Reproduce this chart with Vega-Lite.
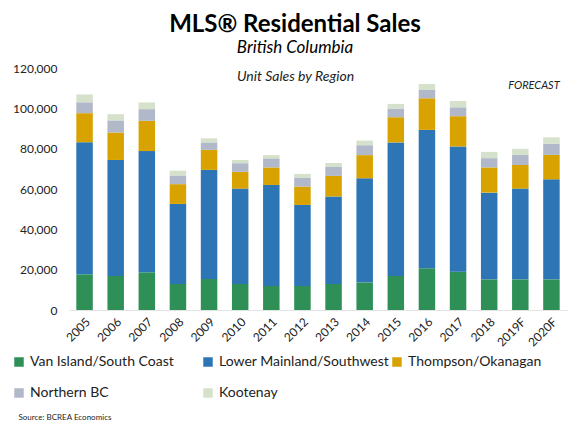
{
  "$schema": "https://vega.github.io/schema/vega-lite/v6.json",
  "width": 498,
  "height": 242,
  "autosize": {"type": "none"},
  "padding": {"left": 69, "top": 68, "right": 9, "bottom": 118},
  "background": "white",
  "config": {"view": {"stroke": null}, "font": "Lato"},
  "title": {
    "text": "MLS® Residential Sales",
    "subtitle": "British Columbia",
    "font": "Lato",
    "fontSize": 24,
    "fontWeight": "bold",
    "color": "black",
    "subtitleFont": "Lato",
    "subtitleFontSize": 17,
    "subtitleFontStyle": "italic",
    "subtitleColor": "black",
    "subtitlePadding": 3,
    "anchor": "middle",
    "dx": -23,
    "offset": 6
  },
  "layer": [
    {
      "data": {
        "values": [
          {"year": "2005", "Van Island/South Coast": 17700, "Lower Mainland/Southwest": 65500, "Thompson/Okanagan": 14400, "Northern BC": 5400, "Kootenay": 3900},
          {"year": "2006", "Van Island/South Coast": 16900, "Lower Mainland/Southwest": 57500, "Thompson/Okanagan": 13600, "Northern BC": 6000, "Kootenay": 3100},
          {"year": "2007", "Van Island/South Coast": 18700, "Lower Mainland/Southwest": 60100, "Thompson/Okanagan": 15000, "Northern BC": 5800, "Kootenay": 3300},
          {"year": "2008", "Van Island/South Coast": 12900, "Lower Mainland/Southwest": 39700, "Thompson/Okanagan": 9800, "Northern BC": 4300, "Kootenay": 2400},
          {"year": "2009", "Van Island/South Coast": 15400, "Lower Mainland/Southwest": 54100, "Thompson/Okanagan": 9900, "Northern BC": 3700, "Kootenay": 2000},
          {"year": "2010", "Van Island/South Coast": 12900, "Lower Mainland/Southwest": 47300, "Thompson/Okanagan": 8300, "Northern BC": 4300, "Kootenay": 1600},
          {"year": "2011", "Van Island/South Coast": 11900, "Lower Mainland/Southwest": 50100, "Thompson/Okanagan": 8700, "Northern BC": 4500, "Kootenay": 1600},
          {"year": "2012", "Van Island/South Coast": 11900, "Lower Mainland/Southwest": 40200, "Thompson/Okanagan": 9100, "Northern BC": 4500, "Kootenay": 1800},
          {"year": "2013", "Van Island/South Coast": 12900, "Lower Mainland/Southwest": 43400, "Thompson/Okanagan": 10200, "Northern BC": 4400, "Kootenay": 2000},
          {"year": "2014", "Van Island/South Coast": 13700, "Lower Mainland/Southwest": 51600, "Thompson/Okanagan": 11500, "Northern BC": 4900, "Kootenay": 2300},
          {"year": "2015", "Van Island/South Coast": 16900, "Lower Mainland/Southwest": 66200, "Thompson/Okanagan": 12500, "Northern BC": 4300, "Kootenay": 2300},
          {"year": "2016", "Van Island/South Coast": 20700, "Lower Mainland/Southwest": 68600, "Thompson/Okanagan": 15700, "Northern BC": 4100, "Kootenay": 3000},
          {"year": "2017", "Van Island/South Coast": 19000, "Lower Mainland/Southwest": 62100, "Thompson/Okanagan": 15000, "Northern BC": 4400, "Kootenay": 3100},
          {"year": "2018", "Van Island/South Coast": 15200, "Lower Mainland/Southwest": 43000, "Thompson/Okanagan": 12500, "Northern BC": 4600, "Kootenay": 3100},
          {"year": "2019F", "Van Island/South Coast": 15200, "Lower Mainland/Southwest": 45000, "Thompson/Okanagan": 11700, "Northern BC": 5000, "Kootenay": 3000},
          {"year": "2020F", "Van Island/South Coast": 15200, "Lower Mainland/Southwest": 49600, "Thompson/Okanagan": 12100, "Northern BC": 5500, "Kootenay": 3200}
        ]
      },
      "transform": [
        {"fold": ["Van Island/South Coast", "Lower Mainland/Southwest", "Thompson/Okanagan", "Northern BC", "Kootenay"], "as": ["region", "sales"]},
        {"window": [{"op": "row_number", "as": "stackIndex"}], "groupby": ["year"]}
      ],
      "mark": {"type": "bar"},
      "encoding": {
        "x": {
          "field": "year",
          "type": "nominal",
          "sort": null,
          "scale": {"paddingInner": 0.47, "paddingOuter": 0.235},
          "axis": {
            "labelAngle": -45,
            "labelFontSize": 12,
            "labelColor": "#222",
            "labelFont": "Lato",
            "ticks": false,
            "domainColor": "#e3e3e3",
            "labelPadding": 6,
            "title": "Source: BCREA Economics",
            "titleFontSize": 8,
            "titleFontWeight": "normal",
            "titleColor": "#222",
            "titleAngle": 0,
            "titleAlign": "left",
            "titleBaseline": "middle",
            "titleX": -51,
            "titleY": 107
          }
        },
        "y": {
          "field": "sales",
          "type": "quantitative",
          "stack": "zero",
          "scale": {"domain": [0, 120000], "nice": false},
          "axis": {
            "values": [0, 20000, 40000, 60000, 80000, 100000, 120000],
            "format": ",.0f",
            "grid": false,
            "domain": false,
            "ticks": false,
            "labelFontSize": 12,
            "labelColor": "#222",
            "labelPadding": 12,
            "title": "Unit Sales by Region",
            "titleFontSize": 14,
            "titleFontStyle": "italic",
            "titleFontWeight": "normal",
            "titleColor": "#222",
            "titleAngle": 0,
            "titleAlign": "center",
            "titleBaseline": "middle",
            "titleX": 226,
            "titleY": 8
          }
        },
        "order": {"field": "stackIndex", "type": "quantitative", "sort": "ascending"},
        "color": {
          "field": "region",
          "type": "nominal",
          "sort": ["Van Island/South Coast", "Lower Mainland/Southwest", "Thompson/Okanagan", "Northern BC", "Kootenay"],
          "scale": {
            "domain": ["Van Island/South Coast", "Lower Mainland/Southwest", "Thompson/Okanagan", "Northern BC", "Kootenay"],
            "range": ["#2e8f57", "#2e75b6", "#d8a300", "#b0b8c9", "#d5e1cb"]
          },
          "legend": {
            "title": null,
            "orient": "none",
            "direction": "horizontal",
            "legendX": -57,
            "legendY": 287,
            "columns": 3,
            "gridAlign": "all",
            "columnPadding": -5,
            "rowPadding": 17,
            "symbolType": "square",
            "symbolSize": 90,
            "symbolStrokeWidth": 0,
            "labelFontSize": 14,
            "labelFont": "Lato",
            "labelColor": "#222",
            "labelOffset": 4,
            "labelLimit": 250
          }
        }
      }
    },
    {
      "data": {"values": [{"label": "FORECAST"}]},
      "mark": {"type": "text", "fontSize": 11, "fontStyle": "italic", "align": "right", "baseline": "middle", "color": "#222", "font": "Lato"},
      "encoding": {
        "text": {"field": "label", "type": "nominal"},
        "x": {"datum": "2020F", "type": "nominal", "bandPosition": 1},
        "y": {"datum": 111000, "type": "quantitative"}
      }
    }
  ]
}
